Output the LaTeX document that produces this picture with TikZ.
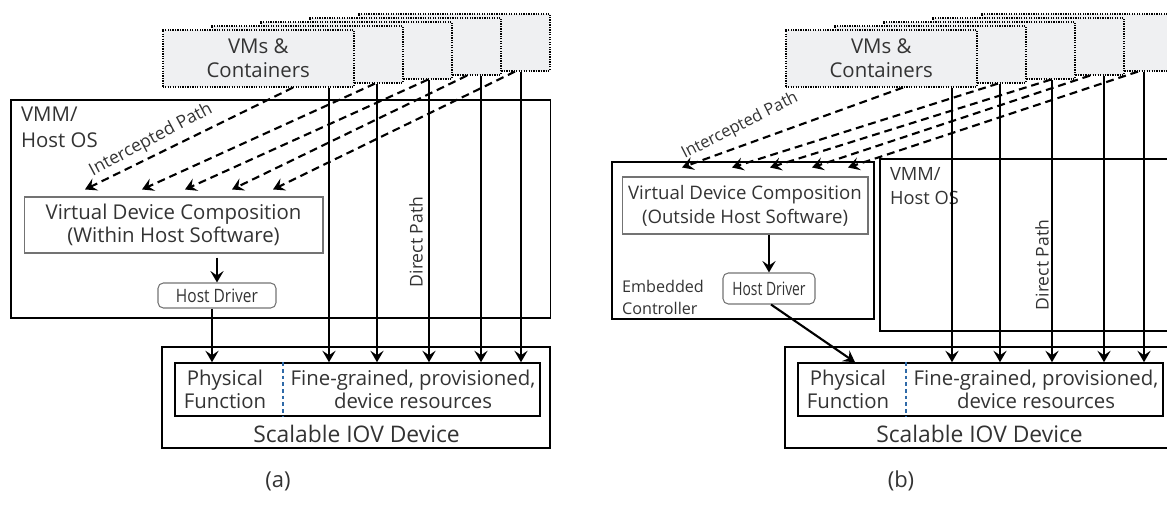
\documentclass[tikz,border=0pt]{standalone}
\usepackage{fontspec}
\usepackage{graphicx}
\setmainfont{Open Sans}
\usetikzlibrary{arrows.meta,calc,positioning}

\definecolor{vmfill}{HTML}{EFF0F2}
\definecolor{txtgray}{HTML}{333333}
\definecolor{divblue}{HTML}{2F6AA8}

\tikzset{
  lbl/.style={text=txtgray, align=center, inner sep=1pt, font=\fontsize{11.6}{13.4}\selectfont},
  smalllbl/.style={text=txtgray, align=center, inner sep=1pt, font=\fontsize{10}{12.6}\selectfont},
  vmbox/.style={draw, fill=vmfill, line width=0.9pt, dash pattern=on 0.7pt off 0.7pt,
    anchor=north west, inner sep=0pt, minimum width=3.82cm, minimum height=1.14cm},
  hostbox/.style={draw, line width=0.9pt, inner sep=0pt},
  vdcbox/.style={draw=black!55, line width=0.6pt, inner sep=0pt, lbl},
  drvbox/.style={draw=black!55, line width=0.6pt, rounded corners=3pt, inner sep=0pt, lbl},
  resbox/.style={draw, line width=0.9pt, inner sep=0pt},
  divider/.style={divblue, line width=0.6pt, dash pattern=on 2.2pt off 1.6pt},
  solidarrow/.style={line width=1.2pt, -{Stealth[length=6.5pt,width=7.5pt,inset=2.5pt]}},
  ipath/.style={line width=1.2pt, dash pattern=on 4.5pt off 2.8pt,
    -{Stealth[length=6.5pt,width=7.5pt,inset=2.5pt]}}
}

\begin{document}
\begin{tikzpicture}[x=0.02cm, y=-0.02cm]
  \useasboundingbox (0,0) rectangle (1167,517);
  \clip (0,0) rectangle (1167,517);

  % -------- left: (a) composition within host software --------
  \begin{scope}
    % VM stack, back to front
    \foreach \i in {5,4,...,2} {
      \node[vmbox] (vmA\i) at ({162+49*(\i-1)},{29-4*(\i-1)}) {};
    }
    \node[vmbox, lbl] (vmA1) at (162,29) {VMs \&\\Containers};

    \node[hostbox, anchor=north west, minimum width=10.8cm, minimum height=4.36cm] (vmmA) at (10,99) {};
    \node[lbl, anchor=north west, align=left, font=\fontsize{11.6}{14.7}\selectfont] (vmmtxtA) at (19,105) {VMM/\\Host OS};

    \node[vdcbox, minimum width=5.98cm, minimum height=1.12cm] (vdcA) at (173.5,225)
      {Virtual Device Composition\\(Within Host Software)};
    \node[drvbox, minimum width=2.36cm, minimum height=0.5cm, font=\fontsize{10.5}{12}\selectfont] (drvA) at (217,295.5)
      {\scalebox{0.84}[1]{Host Driver}};

    \node[hostbox, minimum width=7.76cm, minimum height=2.02cm] (iovA) at (356,397.5) {};
    \node[lbl, font=\fontsize{13}{14}\selectfont] (iovtxtA) at (356.5,434) {Scalable IOV Device};
    \node[resbox, minimum width=7.3cm, minimum height=1.06cm] (resA) at (357.5,389.5) {};
    \node[lbl] (pfA) at (225,389.5) {Physical\\Function};
    \node[lbl] (fgA) at (413,389.5) {Fine-grained, provisioned,\\device resources};
    \draw[divider] (283,0 |- resA.north) -- (283,0 |- resA.south);

    % intercepted and direct paths
    \foreach \i/\s/\t in {1/293/85,2/375/142,3/428/185,4/467/232,5/515/273} {
      \draw[ipath] (\s,0 |- vmA\i.south) -- ($(\t,0 |- vdcA.north)+(0,-7)$);
    }
    \foreach \i/\x in {1/329,2/377,3/429,4/481,5/521} {
      \draw[solidarrow] (\x,0 |- vmA\i.south) -- (\x,0 |- resA.north);
    }
    \draw[solidarrow] ($(vdcA.south -| drvA.north)+(0,4)$) -- (drvA.north);
    \draw[solidarrow] ($(drvA.south)+(-5,0)$) -- ($(drvA.south |- resA.north)+(-5,0)$);

    \node[smalllbl, rotate=28] (ipA) at (151,140) {Intercepted Path};
    \node[smalllbl, rotate=90] (dpA) at (416,242) {Direct Path};
    \node[lbl, font=\fontsize{12.5}{14}\selectfont] (capA) at (278,481) {(a)};
  \end{scope}

  % -------- right: (b) composition outside host software --------
  \begin{scope}[shift={(623,0)}]
    % VM stack, back to front
    \foreach \i in {5,4,...,2} {
      \node[vmbox] (vmB\i) at ({162+49*(\i-1)},{29-4*(\i-1)}) {};
    }
    \node[vmbox, lbl] (vmB1) at (162,29) {VMs \&\\Containers};

    \node[hostbox, anchor=north west, minimum width=5.24cm, minimum height=3.14cm] (ecB) at (-12,161) {};
    \node[hostbox, anchor=north west, minimum width=5.88cm, minimum height=3.44cm] (vmmB) at (256,158) {};
    \node[lbl, anchor=north west, align=left, font=\fontsize{10.4}{13.6}\selectfont] (vmmtxtB) at (265,165) {VMM/\\Host OS};

    \node[vdcbox, minimum width=4.92cm, minimum height=1.14cm, font=\fontsize{10.6}{13.6}\selectfont] (vdcB) at (122,205.5)
      {Virtual Device Composition\\(Outside Host Software)};
    \node[drvbox, minimum width=1.84cm, minimum height=0.62cm, font=\fontsize{10.5}{12}\selectfont] (drvB) at (146,288.5)
      {\scalebox{0.75}[1]{Host Driver}};
    \node[smalllbl, anchor=north west, align=left, font=\fontsize{9.2}{12.4}\selectfont] (ectxtB) at (-3,278) {Embedded\\Controller};

    \node[hostbox, minimum width=7.76cm, minimum height=2.02cm] (iovB) at (356,397.5) {};
    \node[lbl, font=\fontsize{13}{14}\selectfont] (iovtxtB) at (356.5,434) {Scalable IOV Device};
    \node[resbox, minimum width=7.3cm, minimum height=1.06cm] (resB) at (357.5,389.5) {};
    \node[lbl] (pfB) at (225,389.5) {Physical\\Function};
    \node[lbl] (fgB) at (413,389.5) {Fine-grained, provisioned,\\device resources};
    \draw[divider] (283,0 |- resB.north) -- (283,0 |- resB.south);

    % intercepted and direct paths
    \foreach \i/\s/\t in {1/280/59,2/375/109,3/428/147,4/467/189,5/515/225} {
      \draw[ipath] (\s,0 |- vmB\i.south) -- ($(\t,0 |- vdcB.north)+(0,-9)$);
    }
    \foreach \i/\x in {1/329,2/377,3/429,4/481,5/521} {
      \draw[solidarrow] (\x,0 |- vmB\i.south) -- (\x,0 |- resB.north);
    }
    \draw[solidarrow] (vdcB.south -| drvB.north) -- (drvB.north);
    \draw[solidarrow] ($(drvB.south)+(2,0)$) -- (232,0 |- resB.north);

    \node[smalllbl, rotate=27, font=\fontsize{9.4}{12}\selectfont] (ipB) at (117,126) {Intercepted Path};
    \node[smalllbl, rotate=90] (dpB) at (419,265) {Direct Path};
    \node[lbl, font=\fontsize{12.5}{14}\selectfont] (capB) at (278,481) {(b)};
  \end{scope}
\end{tikzpicture}
\end{document}
